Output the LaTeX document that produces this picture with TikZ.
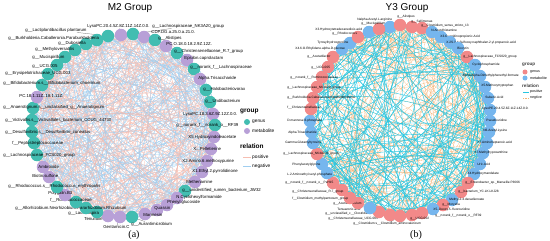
\documentclass[tikz,border=0pt]{standalone}
\usepackage{fontspec}
\setsansfont{Liberation Sans}
\newfontfamily\capfont{Liberation Serif}
\definecolor{agen}{RGB}{66,189,177}
\definecolor{amet}{RGB}{184,160,215}
\definecolor{bgen}{RGB}{242,137,137}
\definecolor{bmet}{RGB}{118,182,238}
\definecolor{apos}{RGB}{246,190,178}
\definecolor{aneg}{RGB}{160,206,240}
\definecolor{bpos}{RGB}{40,198,224}
\definecolor{bneg}{RGB}{245,178,115}
\pgfdeclarelayer{edges}
\pgfsetlayers{edges,main}
\tikzset{
  vert/.style={circle, minimum size=12.5pt, inner sep=0pt},
  alab/.style={font=\sffamily\fontsize{4.3}{5}\selectfont, inner sep=0.2pt, anchor=west},
  blab/.style={font=\sffamily\fontsize{3.2}{4}\selectfont, inner sep=0.2pt, anchor=west},
  posa/.style={apos, line width=0.25pt},
  nega/.style={aneg, line width=0.25pt},
  posb/.style={bpos, line width=0.4pt},
  negb/.style={bneg, line width=0.3pt, dash pattern=on 1pt off 0.6pt},
  leader/.style={black!60, line width=0.25pt},
  ttl/.style={font=\sffamily\fontsize{10}{12}\selectfont},
  lgd/.style={font=\sffamily\bfseries\fontsize{6.5}{7}\selectfont, anchor=west, inner sep=0pt},
  lgi/.style={font=\sffamily\fontsize{4.8}{5}\selectfont, anchor=west, inner sep=0pt},
  lgdb/.style={font=\sffamily\bfseries\fontsize{4.6}{5}\selectfont, text=black!75, anchor=west, inner sep=0pt},
  lgib/.style={font=\sffamily\fontsize{3.6}{4}\selectfont, anchor=west, inner sep=0pt},
  capt/.style={font=\capfont\fontsize{10}{12}\selectfont},
}
\begin{document}
\begin{tikzpicture}[x=1pt, y=-1pt]
  \useasboundingbox (0,0) rectangle (550,241);

  % Titles
  \node[ttl] (ta) at (130,8) {M2 Group};
  \node[ttl] (tb) at (407,8) {Y3 Group};

  % Nodes (a)
  \foreach \x/\y/\col/\txt/\lx/\ly [count=\n] in {
    108/36/agen/g\_\_Lactiplantibacillus plantarum/25/30,
    121/35/amet/LysoPC.20.4.5Z.8Z.11Z.14Z.0.0./87/26,
    133/34/agen/g\_\_Lachnospiraceae\_NK3A20\_group/152/26,
    144/37/amet/CDP.DG.a.25.0.a.21.0./151/32,
    155/40/agen/g\_\_Alistipes/158/38,
    166/46/amet/PC.O.18.0.18.2.9Z.12Z./166/44,
    177/53/agen/g\_\_Christensenellaceae\_R.7\_group/174/51,
    187/60/amet/Epsilon.caprolactam/184/58,
    194/69/agen/g\_\_norank\_f\_\_Lachnospiraceae/190/67,
    200/79/amet/Alpha.Trisaccharide/198/78,
    206/90/agen/g\_\_Halobacteriovorax/203/89,
    210/102/agen/g\_\_Undibacterium/205/101,
    213/114/amet/LysoPC.18.3.6Z.9Z.12Z.0.0./183/114,
    215/125/agen/g\_\_norank\_f\_\_norank\_o\_\_RF39/176/125,
    214/137/amet/X5.Hydroxyindoleacetate/188/137,
    211/149/amet/X.{}.{}.Pelletierine/193/149,
    207/161/amet/X2.Amino.6.methoxypurine/182/161,
    202/172/amet/X1.Ethyl.2.pyrrolidinone/192/171,
    195/182/amet/Methenamine/186/182,
    185/191/agen/g\_\_unidentified\_rumen\_bacterium\_JW32/182/190,
    177/198/amet/N.Cyclohexylformamide/176/197,
    167/205/amet/Phenyl.glucoside/167/202,
    157/210/amet/Quassin/154/208,
    145/214/amet/Marmesin/143/215,
    132/217/agen/g\_\_Aurantimicrobium/131/224,
    120/217/amet/Gentamicin.C/103/227,
    108/216/amet/Tenuifolin/84/219,
    97/212/agen/g\_\_Lachnospira/68/213,
    86/208/agen/g\_\_Allorhizobium.Neorhizobium.Pararhizobium.Rhizobium/15/208,
    76/202/agen/f\_\_Ruminococcaceae/50/200,
    65/195/amet/Polygalin.B3/48/193,
    57/187/agen/g\_\_Rhodococcus.s\_\_Rhodococcus\_erythropolis/8/186,
    49/177/amet/Biotin.sulfone/32/176,
    43/167/amet/Ambroxide/38/167,
    37/155/agen/g\_\_Lachnospiraceae\_FCS020\_group/3/155,
    34/143/agen/f\_\_Peptostreptococcaceae/12/143,
    32/132/agen/g\_\_Desulfovibrio.s\_\_Desulfovibrio\_cuneatus/5/132,
    32/120/agen/g\_\_Victivallis.s\_\_Victivallales\_bacterium\_CCUG\_44730/5/120,
    33/108/agen/g\_\_Anaerotignum.s\_\_unclassified\_g\_\_Anaerotignum/3/107,
    37/97/amet/PC.18.1.11Z..18.1.11Z./19/96,
    42/85/agen/g\_\_Bifidobacterium.s\_\_Bifidobacterium\_choerinum/3/83,
    48/74/agen/g\_\_Erysipelotrichaceae\_UCG.003/5/73,
    57/65/agen/g\_\_UCG.005/32/66,
    65/57/agen/g\_\_Mucispirillum/32/57,
    75/50/agen/g\_\_Methyloversatilis/35/49,
    86/44/agen/g\_\_Dubosiella/58/43,
    97/40/agen/g\_\_Burkholderia.Caballeronia.Paraburkholderia/8/38}
  {
    \node[vert, fill=\col] (a\n) at (\x,\y) {};
    \node[alab] (la\n) at (\lx,\ly) {\txt};
  }

  % Nodes (b)
  \foreach \x/\y/\col/\txt/\lx/\ly [count=\n] in {
    390/27/bmet/Nalpha.Acetyl.L.arginine/357/20,
    400/25/bgen/g\_\_Alistipes/397/17,
    412/27/bgen/g\_\_Sellimonas/411/22,
    422/28/bgen/g\_\_Clostridium\_sensu\_stricto\_13/421/26,
    432/32/bmet/N.Acetylhistamine/431/31,
    441/37/bmet/X3.Guanidinopropionic.Acid/440/37,
    450/42/bmet/X.2S.3.4.Sulfooxy.naphthalen.2.yl.propanoic.acid/446/43,
    458/48/bmet/Biocytin/457/49,
    467/57/bgen/g\_\_Lachnospiraceae\_FCS020\_group/463/57,
    475/65/bmet/Cyclophosphamide/472/65,
    480/76/bmet/Alpha.Alpha.Dimethylphenethyl.formate/462/76,
    485/87/bmet/X5.Methoxytryptophan/481/86,
    488/98/bmet/Suberic.Acid/485/97,
    490/110/bmet/LysoPE.20.4.5Z.8Z.11Z.14Z.0.0./482/109,
    490/121/bmet/Pseudouridine/486/120,
    489/132/bmet/N6.Acetyl.Lysine/483/131,
    487/143/bmet/X7.Aminoheptanoic.acid/477/143,
    483/153/bmet/X7.Methylhypoxanthine/474/153,
    480/164/bmet/Uric.Acid/477/164,
    474/174/bmet/X4.Hydroxymandelate/467/174,
    468/183/bgen/g\_\_Enterobacter\_sp.\_Marseille.P3666/465/183,
    461/192/bgen/g\_\_bacterium\_YC.LK.LKJ28/458/192,
    452/200/bmet/Methyl.2.4.decadienoate/449/200,
    443/205/bgen/g\_\_Moryella/442/205,
    433/209/bmet/X5..Deoxy.5..fluorouridine/433/210,
    422/213/bgen/g\_\_norank\_f\_\_norank\_o\_\_RF39/435/216,
    412/215/bgen/g\_\_UCG.002/410/219,
    400/216/bgen/g\_\_Clostridium.s\_\_Clostridium\_aminovalericum/353/224,
    390/215/bgen/g\_\_Christensenellaceae\_UCG.005/328/219,
    379/212/bgen/g\_\_unclassified\_c\_\_Clostridia/325/214,
    370/208/bmet/Tenuazonic.acid/337/209,
    358/203/bgen/g\_\_Acetitomaculum/333/204,
    350/198/bgen/f\_\_Clostridium\_methylpentosum\_group/292/199,
    342/190/bgen/g\_\_Christensenellaceae\_R.7\_group/292/192,
    333/183/bgen/g\_\_norank\_f\_\_norank\_o\_\_PeH15/285/183,
    327/173/bmet/L.2.Aminoethyl.seryl.phosphate/287/175,
    322/164/bmet/Phenylacetylglycine/292/165,
    317/154/bgen/g\_\_Lachnospiraceae\_NK4A136\_group/283/154,
    313/143/bmet/Gamma.Glutamyltyrosine/285/143,
    311/132/bmet/Alpha.Trisaccharide/288/133,
    310/121/bmet/D.mannose.6.phosphate/287/121,
    311/109/bgen/f\_\_Christensenellaceae/287/108,
    313/98/bgen/g\_\_Burkholderia.Caballeronia.Paraburkholderia/287/98,
    317/87/bgen/g\_\_Lachnospiraceae\_NK3A20\_group/287/88,
    322/77/bgen/g\_\_norank\_f\_\_Ruminococcaceae/290/78,
    328/67/bgen/g\_\_UCG.005/311/68,
    333/57/bgen/g\_\_Acetatifactor/307/57,
    342/49/bmet/X4.6.O.Ethylidene.alpha.D.glucose/295/49,
    350/43/bmet/Tyrosylhydroxyproline/317/43,
    358/37/bgen/g\_\_Rhodococcus/332/34,
    369/32/bmet/X3.Hydroxytetradecanedioic.acid/315/30,
    379/29/bgen/g\_\_Mucispirillum/361/24}
  {
    \node[vert, fill=\col] (b\n) at (\x,\y) {};
    \node[blab] (lb\n) at (\lx,\ly) {\txt};
  }

  % Edges
  \begin{pgfonlayer}{edges}
    \pgfmathsetseed{11}
    \foreach \k in {1,...,300}{
      \pgfmathrandominteger{\ii}{1}{47}
      \pgfmathrandominteger{\dd}{3}{44}
      \pgfmathtruncatemacro{\jj}{mod(\ii+\dd-1,47)+1}
      \draw[posa] (a\ii) to[bend left=22] (a\jj);
      \pgfmathrandominteger{\ii}{1}{47}
      \pgfmathrandominteger{\dd}{3}{44}
      \pgfmathtruncatemacro{\jj}{mod(\ii+\dd-1,47)+1}
      \draw[nega] (a\ii) to[bend left=22] (a\jj);
    }
    \foreach \k in {1,...,230}{
      \pgfmathrandominteger{\ii}{1}{52}
      \pgfmathrandominteger{\dd}{4}{48}
      \pgfmathtruncatemacro{\jj}{mod(\ii+\dd-1,52)+1}
      \draw[negb] (b\ii) to[bend left=15] (b\jj);
    }
    \foreach \k in {1,...,190}{
      \pgfmathrandominteger{\ii}{1}{52}
      \pgfmathrandominteger{\dd}{4}{48}
      \pgfmathtruncatemacro{\jj}{mod(\ii+\dd-1,52)+1}
      \draw[posb] (b\ii) to[bend left=15] (b\jj);
    }
    % leader lines
    \foreach \n in {1,2,3,25,26}
      \draw[leader] (la\n) -- (a\n);
    \foreach \n in {26,28}
      \draw[leader] (lb\n) -- (b\n);
  \end{pgfonlayer}

  % Legend (a)
  \node[lgd] (gra) at (240,111) {group};
  \node[vert, fill=agen, minimum size=6pt] (ka1) at (247,122) {};
  \node[lgi] (ta1) at (252,122) {genus};
  \node[vert, fill=amet, minimum size=6pt] (ka2) at (247,131) {};
  \node[lgi] (ta2) at (252,131) {metabolite};
  \node[lgd] (rea) at (240,146) {relation};
  \coordinate (pa1) at (243,157);
  \coordinate (pa2) at (251,157);
  \draw[posa, line width=0.5pt] (pa1) -- (pa2);
  \node[lgi] (ta3) at (252,157) {positive};
  \coordinate (na1) at (243,166);
  \coordinate (na2) at (251,166);
  \draw[nega, line width=0.5pt] (na1) -- (na2);
  \node[lgi] (ta4) at (252,166) {negative};

  % Legend (b)
  \node[lgdb] (grb) at (522,65) {group};
  \node[vert, fill=bgen, minimum size=5pt] (kb1) at (525,72) {};
  \node[lgib] (tb1) at (530,72) {genus};
  \node[vert, fill=bmet, minimum size=5pt] (kb2) at (525,78) {};
  \node[lgib] (tb2) at (530,78) {metabolite};
  \node[lgdb] (reb) at (522,86) {relation};
  \coordinate (pb1) at (523,92);
  \coordinate (pb2) at (529,92);
  \draw[posb] (pb1) -- (pb2);
  \node[lgib] (tb3) at (530,92) {positive};
  \coordinate (nb1) at (523,98);
  \coordinate (nb2) at (529,98);
  \draw[negb] (nb1) -- (nb2);
  \node[lgib] (tb4) at (530,98) {negtive};

  % Captions
  \node[capt] (ca) at (134,235) {(a)};
  \node[capt] (cb) at (416,235) {(b)};
\end{tikzpicture}
\end{document}
